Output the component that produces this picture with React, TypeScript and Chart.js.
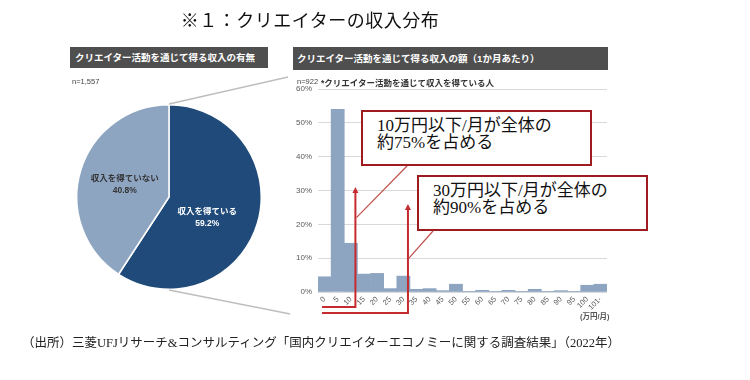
import React, { useEffect, useRef } from "react";
import { Chart, registerables } from "chart.js";

Chart.register(...registerables);

// ---- data ----
const pieLabels = ["収入を得ている", "収入を得ていない"];
const pieValues = [59.2, 40.8];
const pieColors = ["#1f4a7a", "#8ea5c2"];
const pieTextColors = ["#ffffff", "#333333"];

const incomeBins = ["0", "5", "10", "15", "20", "25", "30", "35", "40", "45", "50", "55", "60", "65", "70", "75", "80", "85", "90", "95", "100", "101-"];
const incomeShares = [4.5, 54, 14.4, 5.3, 5.5, 1.0, 4.7, 0.8, 1.0, 0.4, 2.3, 0.1, 0.5, 0.1, 0.5, 0.1, 0.8, 0.1, 0.4, 0.1, 2.0, 2.3];
const yMax = 60;
const yStep = 10;

const arrowBinIndex = [2, 6];
const arrowTopValues = [31, 26];
const calloutTargetValues = [22, 10];
const calloutTexts = [
  ["10万円以下/月が全体の", "約75%を占める"],
  ["30万円以下/月が全体の", "約90%を占める"],
];

// ---- layout ----
const boxes = [
  { left: 361, top: 110, width: 231, height: 56, anchorX: 407 },
  { left: 417, top: 175, width: 231, height: 56, anchorX: 433 },
];
const RED = "#c42a2e";
const SANS = '"Liberation Sans", Arial, "Noto Sans CJK JP", sans-serif';
const SERIF = '"Liberation Serif", "Times New Roman", "Noto Sans CJK JP", serif';

const annotationPlugin = {
  id: "annot",
  afterDraw(chart: any) {
    const ctx = chart.ctx;
    const xs = chart.scales.x;
    const ys = chart.scales.y;
    const area = chart.chartArea;
    const half = (xs.getPixelForValue(1) - xs.getPixelForValue(0)) / 2;
    const y0 = ys.getPixelForValue(0);
    ctx.save();
    arrowBinIndex.forEach((bi: number, k: number) => {
      const ax = xs.getPixelForValue(bi) + half - 2;
      const top = ys.getPixelForValue(arrowTopValues[k]);
      const bottom = y0 + 15 + 6 * k;
      ctx.strokeStyle = RED;
      ctx.lineWidth = 2;
      ctx.beginPath();
      ctx.moveTo(area.left + 4, bottom);
      ctx.lineTo(ax, bottom);
      ctx.lineTo(ax, top + 4);
      ctx.stroke();
      ctx.fillStyle = RED;
      ctx.beginPath();
      ctx.moveTo(ax, top);
      ctx.lineTo(ax - 3, top + 6);
      ctx.lineTo(ax + 3, top + 6);
      ctx.closePath();
      ctx.fill();
      const b = boxes[k];
      ctx.strokeStyle = "#c0504d";
      ctx.lineWidth = 1.2;
      ctx.beginPath();
      ctx.moveTo(b.anchorX, b.top + b.height);
      ctx.lineTo(ax + 1, ys.getPixelForValue(calloutTargetValues[k]));
      ctx.stroke();
    });
    ctx.restore();
  },
};

const pieLabelNudges = [
  [-6, 8],
  [0, 1],
];

const pieLabelPlugin = {
  id: "pieLabels",
  afterDatasetsDraw(chart: any) {
    const ctx = chart.ctx;
    const meta = chart.getDatasetMeta(0);
    ctx.save();
    ctx.textAlign = "center";
    ctx.textBaseline = "middle";
    ctx.font = `bold 8.5px ${SANS}`;
    meta.data.forEach((arc: any, i: number) => {
      const p = arc.tooltipPosition();
      const x = p.x + pieLabelNudges[i][0];
      const y = p.y + pieLabelNudges[i][1];
      ctx.fillStyle = pieTextColors[i];
      ctx.fillText(pieLabels[i], x, y - 6);
      ctx.fillText(pieValues[i].toFixed(1) + "%", x, y + 6);
    });
    ctx.restore();
  },
};

export default function App() {
  const barRef = useRef<HTMLCanvasElement>(null);
  const pieRef = useRef<HTMLCanvasElement>(null);

  useEffect(() => {
    const bar = new Chart(barRef.current as HTMLCanvasElement, {
      type: "bar",
      data: {
        labels: incomeBins,
        datasets: [
          {
            data: incomeShares,
            backgroundColor: "#8ea5c2",
            barPercentage: 1,
            categoryPercentage: 1,
            borderWidth: 0,
          },
        ],
      },
      options: {
        responsive: false,
        animation: false,
        layout: { padding: { left: 294, right: 143, top: 89, bottom: 66 } },
        plugins: { legend: { display: false }, tooltip: { enabled: false } },
        scales: {
          x: {
            grid: { display: false, drawTicks: false },
            border: { display: false },
            ticks: {
              autoSkip: false,
              minRotation: 45,
              maxRotation: 45,
              padding: 3,
              color: "#595959",
              font: { family: SANS, size: 7.5 },
            },
            afterFit: (s: any) => {
              s.height = 22;
            },
          },
          y: {
            min: 0,
            max: yMax,
            grid: { color: "#d9d9d9", drawTicks: false, lineWidth: 1 },
            border: { display: false },
            ticks: {
              stepSize: yStep,
              padding: 6,
              color: "#595959",
              font: { family: SANS, size: 8 },
              callback: (v: any) => v + "%",
            },
            afterFit: (s: any) => {
              s.width = 24;
            },
          },
        },
      },
      plugins: [annotationPlugin],
    });

    const pie = new Chart(pieRef.current as HTMLCanvasElement, {
      type: "pie",
      data: {
        labels: pieLabels,
        datasets: [
          {
            data: pieValues,
            backgroundColor: pieColors,
            borderColor: "#ffffff",
            borderWidth: 1.5,
          },
        ],
      },
      options: {
        responsive: false,
        animation: false,
        layout: { padding: 2 },
        plugins: { legend: { display: false }, tooltip: { enabled: false } },
      },
      plugins: [pieLabelPlugin],
    });

    return () => {
      bar.destroy();
      pie.destroy();
    };
  }, []);

  const abs = (s: React.CSSProperties): React.CSSProperties => ({ position: "absolute", ...s });

  return (
    <div style={{ position: "absolute", left: 0, top: 0, width: 750, height: 380, background: "#fff", overflow: "hidden" }}>
      <canvas ref={barRef} width={750} height={380} style={abs({ left: 0, top: 0, width: 750, height: 380 })} />
      <canvas ref={pieRef} width={190} height={190} style={abs({ left: 74, top: 102, width: 190, height: 190 })} />
      <svg width={750} height={380} style={abs({ left: 0, top: 0 })}>
        <line x1={169} y1={104} x2={288} y2={77} stroke="#bdbdbd" strokeWidth={1.5} />
        <line x1={169} y1={290} x2={290} y2={314} stroke="#bdbdbd" strokeWidth={1.5} />
      </svg>

      <div style={abs({ left: 150, top: 6, width: 320, textAlign: "center", fontFamily: SERIF, fontSize: 18, color: "#111", letterSpacing: 0.5, whiteSpace: "nowrap" })}>
        ※１：クリエイターの収入分布
      </div>

      <div style={abs({ left: 70, top: 47, width: 198, height: 21, background: "#4f4f4f", color: "#fff", fontFamily: SANS, fontWeight: "bold", fontSize: 9.5, lineHeight: "21px", paddingLeft: 5, boxSizing: "border-box", whiteSpace: "nowrap" })}>
        クリエイター活動を通じて得る収入の有無
      </div>
      <div style={abs({ left: 72, top: 77, fontFamily: SANS, fontSize: 7.5, color: "#444", whiteSpace: "nowrap" })}>n=1,557</div>

      <div style={abs({ left: 293, top: 47, width: 315, height: 23, background: "#4f4f4f", color: "#fff", fontFamily: SANS, fontWeight: "bold", fontSize: 9.5, lineHeight: "23px", paddingLeft: 4, boxSizing: "border-box", whiteSpace: "nowrap" })}>
        クリエイター活動を通じて得る収入の額（1か月あたり）
      </div>
      <div style={abs({ left: 297, top: 77, fontFamily: SANS, fontSize: 7.5, color: "#444", whiteSpace: "nowrap" })}>n=922</div>
      <div style={abs({ left: 321, top: 76, fontFamily: SANS, fontSize: 8.5, fontWeight: "bold", color: "#333", whiteSpace: "nowrap" })}>
        *クリエイター活動を通じて収入を得ている人
      </div>
      <div style={abs({ left: 580, top: 310, fontFamily: SANS, fontSize: 7.5, fontWeight: "bold", color: "#555", whiteSpace: "nowrap" })}>(万円/月)</div>

      {boxes.map((b, i) => (
        <div
          key={i}
          style={abs({
            left: b.left,
            top: b.top,
            width: b.width,
            height: b.height,
            border: "2px solid #9e1c20",
            background: "#fff",
            boxSizing: "border-box",
            paddingLeft: 14,
            paddingTop: 5,
            fontFamily: SERIF,
            fontSize: 17,
            lineHeight: "17px",
            color: "#111",
            whiteSpace: "nowrap",
          })}
        >
          {calloutTexts[i][0]}
          <br />
          {calloutTexts[i][1]}
        </div>
      ))}

      <div style={abs({ left: 22, top: 332, fontFamily: SERIF, fontSize: 12.5, color: "#222", whiteSpace: "nowrap" })}>
        （出所）三菱UFJリサーチ&amp;コンサルティング「国内クリエイターエコノミーに関する調査結果」（2022年）
      </div>
    </div>
  );
}
